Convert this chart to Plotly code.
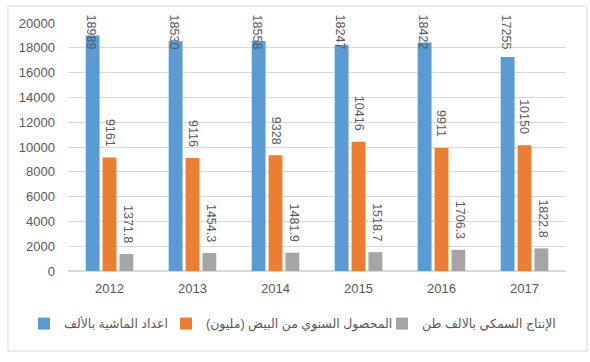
import plotly.graph_objects as go

years = ["2012", "2013", "2014", "2015", "2016", "2017"]
livestock = [18989, 18530, 18558, 18247, 18422, 17255]
eggs = [9161, 9116, 9328, 10416, 9911, 10150]
fish = [1371.8, 1454.3, 1481.9, 1518.7, 1706.3, 1822.8]
fish_labels = ["1371.8", "1454.3", "1481.9", "1518.7", "1706.3", "1822.8"]

names = ["اعداد الماشية بالألف", "المحصول السنوي من البيض (مليون)", "الإنتاج السمكي بالالف طن"]
colors = ["#5B9BD5", "#ED7D31", "#A5A5A5"]
legend_ids = ["legend", "legend2", "legend3"]
legend_x = [-0.0884, 0.1968, 0.6305]

FONT = "Liberation Sans, DejaVu Sans, Noto Sans"
TXT = "#595959"

fig = go.Figure()
for vals, nm, col, lg in zip([livestock, eggs, fish], names, colors, legend_ids):
    fig.add_trace(go.Bar(x=years, y=vals, name=nm, legend=lg, hoverinfo="skip",
                         marker=dict(color=col, line=dict(width=0))))

annotations = []
lab_font = dict(family=FONT, size=12.5, color=TXT)
# livestock labels clamped to the top of the chart area (as in the source)
for i, v in enumerate(livestock):
    annotations.append(dict(x=i, y=1.044, xref="x", yref="paper", text=str(v), textangle=90,
                            showarrow=False, xanchor="center", yanchor="top", xshift=-18.5,
                            font=lab_font))
for i, v in enumerate(eggs):
    annotations.append(dict(x=i, y=v, xref="x", yref="y", text=str(v), textangle=90,
                            showarrow=False, xanchor="center", yanchor="bottom", xshift=0, yshift=9,
                            font=lab_font))
for i, (v, t) in enumerate(zip(fish, fish_labels)):
    annotations.append(dict(x=i, y=v, xref="x", yref="y", text=t, textangle=90,
                            showarrow=False, xanchor="center", yanchor="bottom", xshift=18.5, yshift=9,
                            font=lab_font))

leg_common = dict(orientation="h", y=-0.2137, yanchor="middle", xanchor="left",
                  font=dict(family=FONT, size=12.5, color=TXT), itemclick=False,
                  bgcolor="rgba(0,0,0,0)")

fig.update_layout(
    width=590, height=362,
    margin=dict(l=68, r=24, t=23, b=91, autoexpand=False),
    paper_bgcolor="white", plot_bgcolor="white",
    barmode="group", bargap=0.39, bargroupgap=0.18,
    font=dict(family=FONT, size=13, color=TXT),
    showlegend=True,
    legend=dict(x=legend_x[0], **leg_common),
    legend2=dict(x=legend_x[1], **leg_common),
    legend3=dict(x=legend_x[2], **leg_common),
    annotations=annotations,
    shapes=[dict(type="rect", xref="paper", yref="paper", x0=-0.1205, x1=1.042, y0=-0.3226, y1=1.0685,
                 line=dict(color="#D9D9D9", width=1), fillcolor="rgba(0,0,0,0)", layer="below")],
)
fig.update_xaxes(type="category", range=[-0.5, 5.5], showgrid=False, showline=False, ticks="",
                 tickfont=dict(size=13, color=TXT), ticklabelstandoff=8)
fig.update_yaxes(range=[0, 20000], dtick=2000, tickformat="d", showgrid=True, gridcolor="#D9D9D9", gridwidth=1,
                 zeroline=True, zerolinecolor="#D9D9D9", showline=False, ticks="",
                 tickfont=dict(size=13, color=TXT), ticklabelstandoff=12)

fig.write_html("out.html", config={"displayModeBar": False},
               post_script="document.body.style.margin='0';document.body.style.overflow='hidden';")
